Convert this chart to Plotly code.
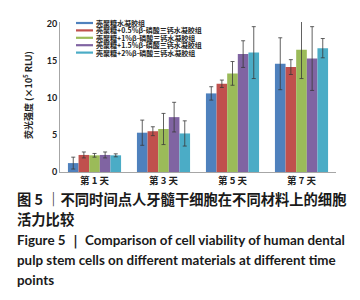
import plotly.graph_objects as go

categories = ["第 1 天", "第 3 天", "第 5 天", "第 7 天"]
series_names = [
    "壳聚糖水凝胶组",
    "壳聚糖+0.5%β-磷酸三钙水凝胶组",
    "壳聚糖+1%β-磷酸三钙水凝胶组",
    "壳聚糖+1.5%β-磷酸三钙水凝胶组",
    "壳聚糖+2%β-磷酸三钙水凝胶组",
]
colors = ["#4F81BD", "#C0504D", "#9BBB59", "#8064A2", "#4BACC6"]

vals_chitosan = [1.2, 5.3, 10.6, 14.6]
vals_05 = [2.3, 5.5, 11.9, 14.15]
vals_1 = [2.25, 5.8, 13.3, 16.5]
vals_15 = [2.3, 7.4, 15.9, 15.3]
vals_2 = [2.25, 5.2, 16.1, 16.7]

err_chitosan = [0.8, 1.7, 0.9, 3.5]
err_05 = [0.4, 0.6, 0.5, 1.0]
err_1 = [0.25, 2.1, 1.6, 3.9]
err_15 = [0.4, 2.0, 1.8, 4.3]
err_2 = [0.2, 1.7, 3.5, 1.3]

values = [vals_chitosan, vals_05, vals_1, vals_15, vals_2]
errors = [err_chitosan, err_05, err_1, err_15, err_2]

y_ticks = [0, 5, 10, 15, 20]
y_title = "荧光强度 (×10<sup>5</sup> RLU)"
caption_cn = ["图 5 ｜不同时间点人牙髓干细胞在不同材料上的细胞", "活力比较"]
caption_en = [
    "Figure 5 ｜ Comparison of cell viability of human dental",
    "pulp stem cells on different materials at different time",
    "points",
]

CJK = "Noto Sans CJK SC"
W, H = 360, 300
ML, MR, MT, MB = 52, 32, 14, 136
PH = H - MT - MB
PW = W - ML - MR

fig = go.Figure()
for name, col, v, e in zip(series_names, colors, values, errors):
    fig.add_trace(go.Bar(
        x=categories, y=v, name=name, marker=dict(color=col, line=dict(width=0)),
        error_y=dict(type="data", array=e, visible=True, color="#3a3a3a",
                     thickness=0.8, width=2),
        showlegend=False,
    ))


def py(pix):
    return (MT + PH - pix) / PH


def px(pix):
    return (pix - ML) / PW


# manual compact legend
leg_x0, leg_x1, leg_tx = 68, 85, 87
for i, (name, col) in enumerate(zip(series_names, colors)):
    ypix = 15 + i * 7.4
    fig.add_shape(type="line", xref="paper", yref="paper",
                  x0=px(leg_x0), x1=px(leg_x1),
                  y0=py(ypix), y1=py(ypix), line=dict(color=col, width=2.2))
    fig.add_annotation(text=name, xref="paper", yref="paper",
                       x=px(leg_tx), y=py(ypix), borderpad=0,
                       xanchor="left", yanchor="middle", showarrow=False,
                       font=dict(family=CJK, size=7, color="#222", weight="bold"))

# y-axis title
fig.add_annotation(text=y_title, xref="paper", yref="paper",
                   x=px(20), y=py(87), textangle=-90,
                   xanchor="center", yanchor="middle", showarrow=False,
                   font=dict(family=CJK, size=9, color="#222", weight="bold"))

# captions
cap_lines = [(caption_cn[0], 190, CJK, 14.3), (caption_cn[1], 210, CJK, 14.3),
             (caption_en[0], 232, "Lato", 13.4), (caption_en[1], 252, "Lato", 13.4),
             (caption_en[2], 272, "Lato", 13.4)]
for txt, ypix, fam, sz in cap_lines:
    fig.add_annotation(text=txt, xref="paper", yref="paper",
                       x=px(8), y=py(ypix), borderpad=0,
                       xanchor="left", yanchor="middle", showarrow=False,
                       font=dict(family=fam, size=sz, color="#1a1a1a", weight="bold"))

fig.update_layout(
    width=W, height=H, barmode="group", bargap=0.23, bargroupgap=0,
    margin=dict(l=ML, r=MR, t=MT, b=MB, autoexpand=False),
    paper_bgcolor="white", plot_bgcolor="white",
    font=dict(family=CJK, color="#222"),
    xaxis=dict(showline=True, linecolor="#a6a6a6", linewidth=1, ticks="",
               tickfont=dict(family=CJK, size=9.5, weight="bold", color="#222"),
               showgrid=False, zeroline=False),
    yaxis=dict(range=[0, 20.23], tickvals=y_ticks, showline=True, linecolor="#a6a6a6",
               linewidth=1, ticks="", showgrid=False, zeroline=False,
               tickfont=dict(family="Lato", size=9, weight="bold", color="#222")),
)

fig.write_html("out.html")
